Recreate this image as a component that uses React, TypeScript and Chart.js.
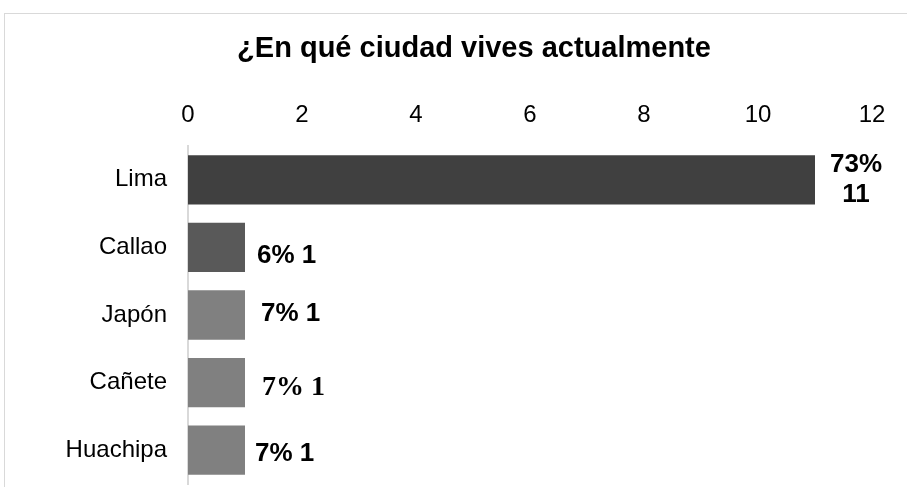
import React, { useEffect, useRef } from "react";
import { Chart, registerables } from "chart.js";

Chart.register(...registerables);

// ---- data ----
const chartTitle = "¿En qué ciudad vives actualmente";
const categories = ["Lima", "Callao", "Japón", "Cañete", "Huachipa"];
const counts = [11, 1, 1, 1, 1];
const percentLabels = ["73%", "6%", "7%", "7%", "7%"];
const xMin = 0;
const xMax = 12;
const xStep = 2;

// ---- styles ----
const barColors = ["#404040", "#595959", "#808080", "#808080", "#808080"];
const SANS = "'Liberation Sans', Arial, sans-serif";
const SERIF = "'Liberation Serif', 'Times New Roman', serif";
// per-label placement tweaks (style only)
const labelStyles = [
  { stacked: true, dx: 41, dy: 0, family: SANS, size: 26 },
  { stacked: false, dx: 12, dy: 8, family: SANS, size: 26 },
  { stacked: false, dx: 16, dy: -1, family: SANS, size: 26 },
  { stacked: false, dx: 17, dy: 5, family: SERIF, size: 28 },
  { stacked: false, dx: 10, dy: 4, family: SANS, size: 26 },
];

const frameAndTitle = {
  id: "frameAndTitle",
  beforeDraw(chart: any) {
    const ctx = chart.ctx;
    ctx.save();
    ctx.strokeStyle = "#d9d9d9";
    ctx.lineWidth = 1;
    ctx.strokeRect(4.5, 13.5, 3000, 3000);
    ctx.restore();
  },
  afterDraw(chart: any) {
    const ctx = chart.ctx;
    ctx.save();
    ctx.fillStyle = "#000000";
    ctx.font = `bold 29px ${SANS}`;
    ctx.textAlign = "center";
    ctx.textBaseline = "middle";
    ctx.fillText(chartTitle, 474, 49);
    ctx.restore();
  },
};

const valueLabels = {
  id: "valueLabels",
  afterDatasetsDraw(chart: any) {
    const ctx = chart.ctx;
    const meta = chart.getDatasetMeta(0);
    ctx.save();
    ctx.fillStyle = "#000000";
    meta.data.forEach((bar: any, i: number) => {
      const st = labelStyles[i];
      ctx.font = `bold ${st.size}px ${st.family}`;
      ctx.textBaseline = "middle";
      if (st.stacked) {
        ctx.textAlign = "center";
        ctx.fillText(percentLabels[i], bar.x + st.dx, bar.y - 15 + st.dy);
        ctx.fillText(String(counts[i]), bar.x + st.dx, bar.y + 15 + st.dy);
      } else {
        ctx.textAlign = "left";
        ctx.fillText(`${percentLabels[i]} ${counts[i]}`, bar.x + st.dx, bar.y + st.dy);
      }
    });
    ctx.restore();
  },
};

export default function App() {
  const ref = useRef<HTMLCanvasElement | null>(null);

  useEffect(() => {
    if (!ref.current) return;
    const chart = new Chart(ref.current, {
      type: "bar",
      data: {
        labels: categories,
        datasets: [
          {
            data: counts,
            backgroundColor: barColors,
            borderWidth: 0,
            barPercentage: 0.73,
            categoryPercentage: 1,
          },
        ],
      },
      options: {
        indexAxis: "y",
        responsive: false,
        animation: false,
        layout: { padding: { top: 0, left: 0, right: 35, bottom: 3 } },
        plugins: {
          legend: { display: false },
          title: { display: false },
          tooltip: { enabled: false },
        },
        scales: {
          x: {
            position: "top",
            min: xMin,
            max: xMax,
            grid: { display: false, drawTicks: false },
            border: { display: false },
            ticks: {
              stepSize: xStep,
              padding: 16,
              color: "#000000",
              font: { family: SANS, size: 24 },
            },
            afterFit(scale: any) {
              scale.height = 146;
            },
          },
          y: {
            grid: { display: false, drawTicks: false },
            border: { display: true, color: "#d9d9d9", width: 2 },
            ticks: {
              padding: 21,
              color: "#000000",
              font: { family: SANS, size: 24 },
            },
            afterFit(scale: any) {
              scale.width = 188;
              scale.paddingTop = 0;
              scale.paddingBottom = 0;
            },
          },
        },
      },
      plugins: [frameAndTitle, valueLabels],
    });
    return () => chart.destroy();
  }, []);

  return (
    <canvas
      ref={ref}
      width={907}
      height={487}
      style={{ position: "fixed", left: 0, top: 0, display: "block", background: "#ffffff" }}
    />
  );
}
